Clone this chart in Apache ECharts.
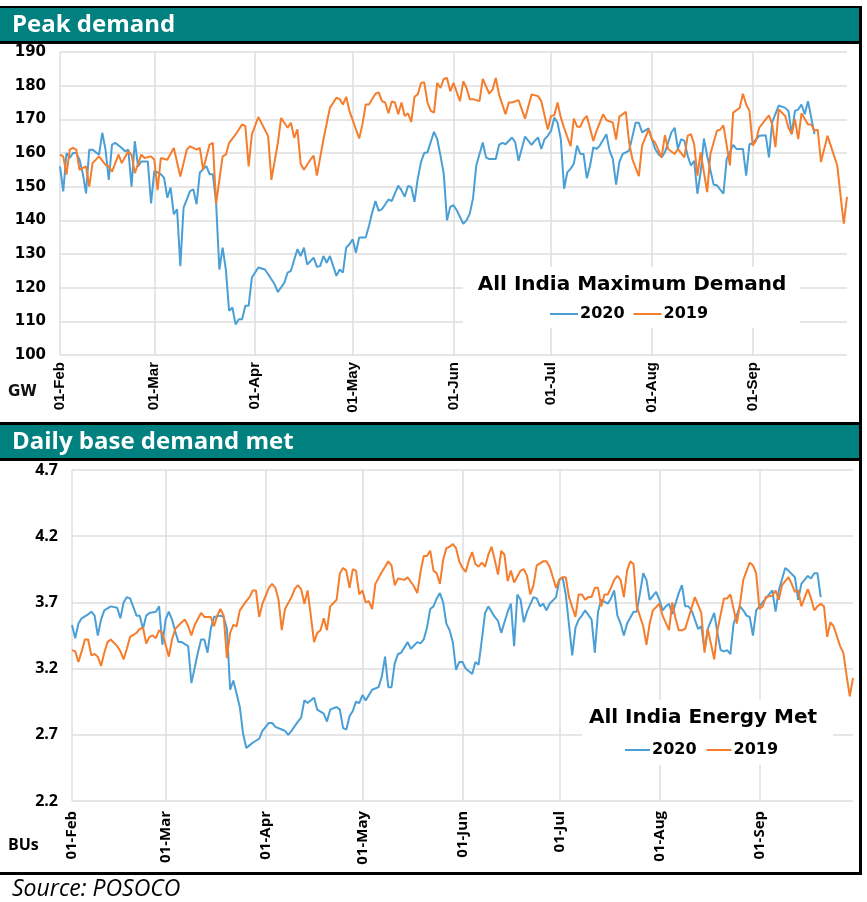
<!DOCTYPE html>
<html>
<head>
    <meta charset="UTF-8">
    <script type="text/javascript" src="https://cdn.jsdelivr.net/npm/echarts@6/dist/echarts.min.js"></script>
</head>
<style>
    body { margin: 0; padding: 0; background: #fff; }
</style>
<body>
<div id="main" style="width: 867px;height:902px;"></div>
<script>
    // month labels and lengths (2020) -> daily categories 01-Feb .. 30-Sep
    var months = ['Feb', 'Mar', 'Apr', 'May', 'Jun', 'Jul', 'Aug', 'Sep'];
    var monthDays = [29, 31, 30, 31, 30, 31, 31, 30];
    var peakTicks = [100, 190, 10];
    var energyTicks = [2.2, 4.7, 0.5];

    // [day index from 01-Feb, value]
    var peak2020 = [[0,156],[1,148.6],[2,160],[3,158.5],[4,160],[5,160],[6,158],[7,154],[8,148],[9,161],[10,161],[12,159.5],[13,166],[14,161],[15,152],[16,162.5],[17,163],[19,161.5],[20,160.5],[21,161],[22,150],[23,163.5],[24,156],[25,157.5],[27,157.5],[28,145],[29,154.7],[31,153.7],[32,152.7],[33,146.7],[34,149.7],[35,141.8],[36,143.3],[37,126.4],[38,143.8],[40,148.7],[41,149.2],[42,144.8],[43,154.2],[45,156.1],[46,153.7],[47,153.7],[48,145.2],[49,125.4],[50,131.9],[51,125.4],[52,113.1],[53,114.1],[54,109.1],[55,110.6],[56,110.6],[57,114.6],[58,114.6],[59,123],[61,126],[63,125.4],[64,124],[66,121],[67,118.7],[69,121.5],[70,124.5],[71,125],[73,131.4],[74,129.4],[75,131.9],[76,126.9],[78,128.9],[79,126.2],[80,126.4],[81,129.4],[82,127.4],[83,129.4],[85,123.5],[86,125.4],[87,124.5],[88,131.9],[89,132.9],[90,134.4],[91,130.4],[92,134.9],[94,134.9],[95,138.3],[96,142.3],[97,145.7],[98,142.8],[99,143.3],[101,146.2],[102,145.7],[104,150.3],[105,148.9],[106,147],[107,150.2],[108,149.9],[109,145.5],[110,152.3],[111,157.3],[112,160],[113,160.2],[115,166.3],[116,164.1],[117,159.2],[118,153.8],[119,140],[120,144],[121,144.5],[122,143],[123,141],[124,139],[125,140],[126,142],[127,146.5],[128,156.3],[129,159.7],[130,163.1],[131,158.7],[132,158.2],[134,158.2],[135,162.4],[136,163],[137,162.6],[139,164.6],[140,163.1],[141,157.7],[143,164.9],[145,162.4],[146,163.6],[147,164.6],[148,161.2],[149,164.1],[150,165.1],[151,166.6],[152,170.5],[153,169],[154,164.1],[155,149.4],[156,154.3],[157,155.3],[158,156.8],[159,162.2],[160,159.7],[161,159.7],[162,152.5],[163,156.3],[164,161.7],[165,161.2],[166,162.2],[168,165.6],[169,160.7],[170,158.2],[171,150.6],[172,157.3],[173,159.7],[174,160.2],[175,160.7],[177,169],[178,169],[179,166.1],[181,167.3],[182,164.1],[183,161.2],[184,159.7],[185,158.7],[186,160.2],[188,166.1],[189,167.5],[190,161.2],[191,164.1],[192,163.6],[193,159.2],[194,156.3],[195,157.7],[196,147.9],[197,154.3],[198,164.3],[199,159.2],[201,150.6],[202,150.4],[204,147.9],[205,158.2],[207,162.4],[208,161.2],[210,161.2],[211,153.3],[212,162.6],[213,162.9],[215,165.1],[217,165.3],[218,158.7],[219,169.2],[221,174.1],[223,173.4],[224,172.5],[225,165.6],[226,172.5],[227,172.9],[228,174.4],[229,171.5],[230,175.4],[231,170.5],[232,165.6]];

    var peak2019 = [[0,159.5],[1,159],[2,153.6],[3,161],[4,161.5],[5,161],[6,155],[8,156],[9,150],[10,157],[12,159],[14,156.5],[15,156],[16,154.5],[18,159.5],[19,157],[21,160.5],[22,159.5],[23,154],[25,159.5],[26,158.5],[28,159],[29,158],[30,149],[31,158.5],[33,158],[35,161.5],[37,153],[39,161],[40,162],[42,161],[43,161.5],[44,155],[46,162.5],[47,163],[48,145],[50,159],[51,159.5],[52,163],[54,165.5],[56,168.5],[57,168],[58,156],[59,165.5],[61,170.7],[64,165],[65,152],[67,163],[68,170.4],[70,167.5],[71,169],[72,164.5],[73,167],[74,156.8],[75,155],[77,158],[78,159.2],[79,153.3],[81,164],[83,173.4],[85,176.4],[86,176],[87,174.4],[88,176.7],[89,172.5],[92,164.3],[93,168.5],[94,174.4],[95,174.4],[97,177.6],[98,178],[99,175.4],[100,175],[101,171.8],[102,175.3],[103,175],[104,171.5],[105,175],[106,171],[107,171.8],[108,169.2],[109,176.7],[110,177.4],[111,180.8],[112,181],[113,175],[114,172.5],[115,172],[116,180.8],[117,179.3],[118,182],[119,182.3],[120,178.3],[121,180.8],[123,175.4],[124,181.3],[125,179.3],[126,176],[127,176],[129,175.4],[130,182],[132,177.6],[133,178.8],[134,182.3],[135,177.4],[137,171.5],[138,175],[139,175],[141,175.7],[143,170.2],[145,177.4],[147,176.9],[148,175.4],[150,167],[151,171],[152,171.2],[153,175],[154,170.5],[155,167.5],[157,162],[158,170.2],[159,167.8],[160,167.8],[161,170],[162,171],[164,163.6],[165,166.6],[167,171.5],[168,169.8],[170,169],[171,164],[172,170.8],[174,172.2],[175,163.1],[176,158.2],[178,153.1],[179,162.2],[181,167],[182,164.1],[183,163.1],[185,158.7],[186,165.3],[187,161.2],[189,159.7],[190,161.2],[192,158.7],[193,165.1],[194,165.6],[195,162.6],[196,153.3],[197,160.2],[199,148.4],[200,159.7],[202,166.6],[203,166.9],[204,168.2],[206,156.3],[207,172],[209,173.4],[210,177.6],[211,174.4],[212,172.5],[213,162.2],[214,163.6],[215,167.5],[217,170],[218,171.2],[219,168.5],[220,161.7],[221,172.9],[223,171],[224,167.5],[225,165.6],[226,170],[227,164.1],[228,171.8],[230,168.5],[231,168.5],[232,166.6],[233,166.9],[234,157.3],[236,165.1],[237,162.2],[239,156.3],[240,147.5],[241,139],[242,147]];

    var energy2020 = [[0,3.53],[1,3.43],[2,3.54],[3,3.58],[5,3.61],[6,3.63],[7,3.60],[8,3.45],[9,3.57],[10,3.64],[12,3.67],[14,3.66],[15,3.58],[16,3.70],[17,3.74],[18,3.73],[20,3.60],[21,3.60],[22,3.50],[23,3.60],[24,3.62],[26,3.63],[27,3.67],[28,3.38],[29,3.57],[30,3.63],[31,3.57],[32,3.48],[33,3.40],[34,3.40],[36,3.37],[37,3.09],[39,3.32],[40,3.42],[41,3.42],[42,3.32],[43,3.50],[44,3.59],[46,3.60],[47,3.59],[48,3.50],[49,3.04],[50,3.11],[52,2.91],[53,2.71],[54,2.60],[55,2.62],[56,2.64],[58,2.67],[59,2.73],[61,2.79],[62,2.79],[63,2.76],[65,2.74],[66,2.73],[67,2.70],[68,2.73],[70,2.80],[71,2.83],[72,2.96],[73,2.94],[75,2.98],[76,2.89],[78,2.86],[79,2.80],[80,2.89],[82,2.91],[83,2.89],[84,2.75],[85,2.74],[86,2.84],[87,2.88],[88,2.95],[89,2.94],[90,3.00],[91,2.96],[93,3.04],[95,3.06],[96,3.14],[97,3.29],[98,3.06],[99,3.06],[100,3.24],[101,3.31],[102,3.32],[104,3.40],[105,3.35],[107,3.40],[108,3.39],[109,3.42],[110,3.51],[111,3.65],[112,3.67],[113,3.73],[114,3.77],[115,3.70],[116,3.54],[117,3.49],[118,3.40],[119,3.19],[120,3.25],[121,3.25],[122,3.20],[123,3.18],[124,3.16],[125,3.25],[126,3.23],[127,3.42],[128,3.62],[129,3.67],[131,3.59],[132,3.56],[133,3.47],[135,3.63],[136,3.69],[137,3.37],[138,3.76],[139,3.72],[140,3.55],[141,3.63],[143,3.74],[144,3.73],[145,3.67],[146,3.69],[147,3.64],[148,3.69],[150,3.74],[151,3.87],[152,3.89],[153,3.76],[155,3.30],[156,3.51],[157,3.57],[158,3.60],[159,3.64],[161,3.57],[162,3.32],[163,3.63],[164,3.72],[166,3.69],[167,3.73],[168,3.79],[169,3.60],[170,3.54],[171,3.45],[172,3.54],[174,3.63],[175,3.63],[176,3.77],[177,3.92],[178,3.87],[179,3.72],[181,3.78],[182,3.72],[183,3.64],[184,3.67],[185,3.69],[186,3.61],[188,3.77],[189,3.83],[190,3.67],[191,3.67],[192,3.64],[194,3.50],[195,3.52],[196,3.34],[197,3.50],[199,3.62],[200,3.47],[201,3.34],[202,3.33],[203,3.34],[204,3.31],[205,3.54],[207,3.67],[208,3.64],[209,3.60],[210,3.59],[211,3.45],[212,3.64],[214,3.70],[215,3.73],[217,3.79],[218,3.63],[219,3.79],[221,3.96],[222,3.94],[224,3.89],[225,3.72],[226,3.84],[228,3.90],[229,3.88],[230,3.92],[231,3.92],[232,3.74]];

    var energy2019 = [[0,3.34],[1,3.33],[2,3.25],[3,3.33],[4,3.42],[5,3.42],[6,3.30],[7,3.31],[8,3.29],[9,3.22],[10,3.32],[11,3.40],[12,3.42],[14,3.37],[15,3.33],[16,3.27],[17,3.35],[18,3.44],[20,3.47],[21,3.50],[22,3.51],[23,3.39],[24,3.44],[25,3.45],[26,3.43],[27,3.49],[28,3.47],[30,3.29],[31,3.42],[32,3.50],[34,3.55],[35,3.57],[36,3.52],[37,3.45],[38,3.53],[40,3.62],[41,3.59],[42,3.59],[43,3.59],[44,3.52],[45,3.60],[46,3.65],[47,3.60],[48,3.28],[49,3.47],[50,3.53],[51,3.52],[52,3.64],[54,3.71],[55,3.74],[56,3.79],[57,3.79],[58,3.59],[59,3.69],[61,3.81],[62,3.84],[63,3.81],[64,3.72],[65,3.49],[66,3.65],[68,3.74],[69,3.80],[70,3.83],[71,3.80],[72,3.69],[73,3.79],[74,3.60],[75,3.40],[76,3.47],[77,3.49],[78,3.58],[79,3.49],[80,3.67],[82,3.72],[83,3.92],[84,3.96],[85,3.94],[86,3.81],[87,3.95],[88,3.94],[89,3.76],[90,3.79],[91,3.70],[92,3.71],[93,3.65],[94,3.84],[96,3.93],[97,3.97],[98,4.01],[99,3.98],[100,3.83],[101,3.88],[103,3.87],[104,3.89],[106,3.82],[107,3.77],[108,3.93],[109,4.05],[110,4.05],[111,4.09],[112,3.94],[113,3.92],[114,3.84],[115,4.02],[116,4.11],[117,4.12],[118,4.14],[119,4.11],[120,4.01],[121,3.96],[122,3.93],[123,4.02],[124,4.08],[125,3.99],[126,3.97],[127,4.00],[128,3.97],[129,4.06],[130,4.12],[131,4.02],[132,3.91],[133,4.09],[134,4.06],[135,3.86],[136,3.94],[137,3.85],[139,3.94],[140,3.95],[141,3.90],[142,3.76],[143,3.83],[144,3.98],[146,4.01],[147,4.01],[148,3.97],[149,3.89],[150,3.81],[151,3.87],[152,3.89],[153,3.89],[154,3.74],[156,3.59],[157,3.76],[158,3.76],[159,3.72],[160,3.74],[161,3.74],[162,3.81],[163,3.81],[164,3.67],[165,3.76],[166,3.76],[167,3.81],[168,3.87],[169,3.90],[170,3.87],[171,3.74],[172,3.94],[173,4.01],[174,3.99],[175,3.67],[177,3.52],[178,3.38],[179,3.54],[180,3.64],[182,3.69],[183,3.60],[185,3.49],[186,3.70],[187,3.58],[188,3.49],[189,3.49],[190,3.50],[191,3.58],[193,3.74],[194,3.68],[195,3.62],[196,3.32],[197,3.50],[199,3.27],[200,3.49],[202,3.73],[203,3.73],[204,3.76],[206,3.54],[207,3.69],[208,3.87],[210,4.00],[211,3.98],[212,3.92],[213,3.65],[214,3.67],[215,3.74],[217,3.75],[218,3.79],[219,3.72],[220,3.83],[222,3.89],[223,3.84],[224,3.78],[225,3.79],[226,3.67],[228,3.80],[229,3.73],[230,3.64],[231,3.67],[232,3.69],[233,3.67],[234,3.44],[235,3.55],[236,3.52],[238,3.37],[239,3.32],[240,3.15],[241,2.99],[242,3.13]];

    var days = [];
    for (var m = 0; m < months.length; m++) {
        for (var d = 1; d <= monthDays[m]; d++) {
            days.push((d < 10 ? '0' + d : '' + d) + '-' + months[m]);
        }
    }

    var blue = '#4A9FD6';
    var orange = '#F57D2C';
    var teal = '#00807E';
    var gridColor = '#dedede';

    function isFirst(idx, val) {
        return val.slice(0, 3) === '01-';
    }

    function xAxis(gridIndex, font, margin) {
        return {
            type: 'category',
            gridIndex: gridIndex,
            data: days,
            boundaryGap: false,
            axisLine: {show: false},
            axisTick: {show: false},
            axisLabel: {
                interval: isFirst,
                rotate: 90,
                margin: margin,
                color: '#000',
                fontFamily: font,
                fontWeight: 'bold',
                fontSize: 15
            },
            splitLine: {show: true, interval: isFirst, lineStyle: {color: gridColor, width: 1.5}}
        };
    }

    var chart = echarts.init(document.getElementById('main'));
    var option = {
        animation: false,
        backgroundColor: '#fff',
        grid: [
            {left: 60, top: 52, width: 787, height: 303},
            {left: 72, top: 470, width: 781, height: 331}
        ],
        xAxis: [xAxis(0, 'Liberation Sans', 7), xAxis(1, 'Open Sans', 10)],
        yAxis: [
            {
                type: 'value', gridIndex: 0,
                min: peakTicks[0], max: peakTicks[1], interval: peakTicks[2],
                axisLine: {show: false}, axisTick: {show: false},
                axisLabel: {margin: 14, color: '#000', fontFamily: 'DejaVu Sans', fontWeight: 'bold', fontSize: 15},
                splitLine: {lineStyle: {color: gridColor, width: 1.5}}
            },
            {
                type: 'value', gridIndex: 1,
                min: energyTicks[0], max: energyTicks[1], interval: energyTicks[2],
                axisLine: {show: false}, axisTick: {show: false},
                axisLabel: {
                    margin: 14, color: '#000', fontFamily: 'Open Sans', fontWeight: 'bold', fontSize: 16,
                    formatter: function (v) { return v.toFixed(1); }
                },
                splitLine: {lineStyle: {color: gridColor, width: 1.5}}
            }
        ],
        legend: [
            {
                left: 550, top: 306, padding: 0, itemGap: 9, itemWidth: 28, itemHeight: 2, icon: 'rect',
                data: ['2020', '2019'],
                textStyle: {color: '#000', fontFamily: 'DejaVu Sans', fontWeight: 'bold', fontSize: 16, padding: [0, 0, 0, -3]}
            },
            {
                left: 625, top: 742, padding: 0, itemGap: 10, itemWidth: 25, itemHeight: 2, icon: 'rect',
                data: ['2020', '2019'],
                textStyle: {color: '#000', fontFamily: 'DejaVu Sans', fontWeight: 'bold', fontSize: 16, padding: [0, 0, 0, -3]}
            }
        ],
        series: [
            {name: '2020', type: 'line', xAxisIndex: 0, yAxisIndex: 0, data: peak2020, showSymbol: false, lineStyle: {width: 2, color: blue}, itemStyle: {color: blue}},
            {name: '2019', type: 'line', xAxisIndex: 0, yAxisIndex: 0, data: peak2019, showSymbol: false, lineStyle: {width: 2, color: orange}, itemStyle: {color: orange}},
            {name: '2020', type: 'line', xAxisIndex: 1, yAxisIndex: 1, data: energy2020, showSymbol: false, lineStyle: {width: 2, color: blue}, itemStyle: {color: blue}},
            {name: '2019', type: 'line', xAxisIndex: 1, yAxisIndex: 1, data: energy2019, showSymbol: false, lineStyle: {width: 2, color: orange}, itemStyle: {color: orange}}
        ],
        graphic: [
            // legend boxes hide the grid behind them
            {type: 'rect', z: 3, shape: {x: 463, y: 267, width: 337, height: 61}, style: {fill: '#fff'}},
            {type: 'rect', z: 3, shape: {x: 582, y: 700, width: 251, height: 65}, style: {fill: '#fff'}},
            {type: 'text', z: 20, style: {x: 632, y: 285, text: 'All India Maximum Demand', align: 'center', verticalAlign: 'middle', fill: '#000', font: 'bold 20px "DejaVu Sans"'}},
            {type: 'text', z: 20, style: {x: 703, y: 718, text: 'All India Energy Met', align: 'center', verticalAlign: 'middle', fill: '#000', font: 'bold 20px "DejaVu Sans"'}},
            // headers and frame
            {type: 'rect', z: 20, shape: {x: 0, y: 6, width: 862, height: 2}, style: {fill: '#000'}},
            {type: 'rect', z: 20, shape: {x: 0, y: 8, width: 860, height: 33}, style: {fill: teal}},
            {type: 'rect', z: 20, shape: {x: 0, y: 41, width: 862, height: 3}, style: {fill: '#000'}},
            {type: 'text', z: 21, style: {x: 12, y: 25, text: 'Peak demand', verticalAlign: 'middle', fill: '#fff', font: 'bold 24px "Open Sans"'}},
            {type: 'rect', z: 20, shape: {x: 0, y: 422, width: 862, height: 3}, style: {fill: '#000'}},
            {type: 'rect', z: 20, shape: {x: 0, y: 425, width: 860, height: 33}, style: {fill: teal}},
            {type: 'rect', z: 20, shape: {x: 0, y: 458, width: 862, height: 3}, style: {fill: '#000'}},
            {type: 'text', z: 21, style: {x: 12, y: 442, text: 'Daily base demand met', verticalAlign: 'middle', fill: '#fff', font: 'bold 24px "Open Sans"'}},
            {type: 'rect', z: 20, shape: {x: 0, y: 872, width: 862, height: 3}, style: {fill: '#000'}},
            {type: 'rect', z: 20, shape: {x: 859, y: 6, width: 3, height: 869}, style: {fill: '#000'}},
            {type: 'text', z: 21, style: {x: 8, y: 392, text: 'GW', verticalAlign: 'middle', fill: '#111', font: 'bold 15px "DejaVu Sans"'}},
            {type: 'text', z: 21, style: {x: 8, y: 845, text: 'BUs', verticalAlign: 'middle', fill: '#000', font: 'bold 16px "Open Sans"'}},
            {type: 'text', z: 21, style: {x: 12, y: 889, text: 'Source: POSOCO', verticalAlign: 'middle', fill: '#000', font: 'italic 23px "Open Sans"'}}
        ]
    };
    chart.setOption(option);
</script>
</body>
</html>
